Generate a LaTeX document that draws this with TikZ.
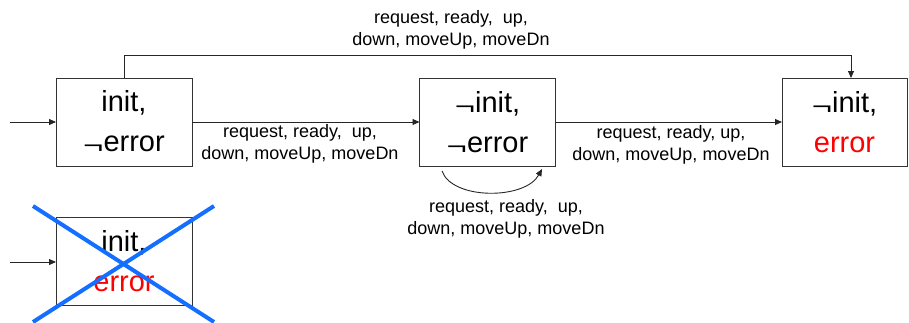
\documentclass[tikz,border=0pt]{standalone}
\usepackage{fontspec}
\setmainfont{Liberation Sans}
\usetikzlibrary{arrows.meta}
\definecolor{crossblue}{RGB}{20,110,255}
\newcommand{\negsym}{\raisebox{-2pt}{\scalebox{1.2}[0.8]{¬}}}
\tikzset{
  state/.style={draw=black!80, line width=1pt, inner sep=0pt, outer sep=0pt,
    minimum width=136pt, minimum height=88pt, align=center,
    font=\fontsize{29}{40}\selectfont},
  trans/.style={line width=0.9pt, draw=black!85, -{Triangle[length=7pt,width=6pt]}},
  lbl/.style={align=center, inner sep=0pt, font=\fontsize{18}{21.5}\selectfont},
  cross/.style={line width=4pt, crossblue}
}
\begin{document}
\begin{tikzpicture}[x=1pt,y=-1pt]
\useasboundingbox (0,0) rectangle (909,322);

% states
\node[state] (s1) at (124,122) {init,\\\negsym error};
\node[state] (s2) at (487.5,122.5) {\negsym init,\\\negsym error};
\node[state, minimum width=125pt] (s3) at (844.5,122) {\negsym init,\\\textcolor{red}{error}};
\node[state] (s4) at (124,261.5) {init,\\\textcolor{red}{error}};

% entry points
\coordinate (in1) at (10,122);
\coordinate (in4) at (10,262);
\draw[trans] (in1) -- (s1.west |- in1);
\draw[trans] (in4) -- (s4.west |- in4);

% transitions between states
\draw[trans] (s1.east |- 0,122) -- (s2.west |- 0,122);
\draw[trans] (s2.east |- 0,122) -- (s3.west |- 0,122);
\coordinate (topA) at (124,55);
\coordinate (topB) at (851,55);
\draw[trans] (s1.north) -- (topA) -- (topB) -- (s3.north -| topB);

% self loop on the middle state
\coordinate (loopS) at (442,171);
\coordinate (loopE) at (542,169);
\draw[trans] (loopS) .. controls (452,200) and (525,200) .. (loopE);

% transition labels
\node[lbl] (l0) at (451,30) {request, ready,~ up,\\down, moveUp, moveDn};
\node[lbl] (l1) at (300,144) {request, ready,~ up,\\down, moveUp, moveDn};
\node[lbl] (l2) at (671,145) {request, ready, up,\\down, moveUp, moveDn};
\node[lbl] (l3) at (506,219) {request, ready,~ up,\\down, moveUp, moveDn};

% the crossed-out state
\coordinate (xa) at (33,206);
\coordinate (xb) at (214,322);
\coordinate (xc) at (214,206);
\coordinate (xd) at (33,322);
\draw[cross] (xa) -- (xb);
\draw[cross] (xc) -- (xd);
\end{tikzpicture}
\end{document}
